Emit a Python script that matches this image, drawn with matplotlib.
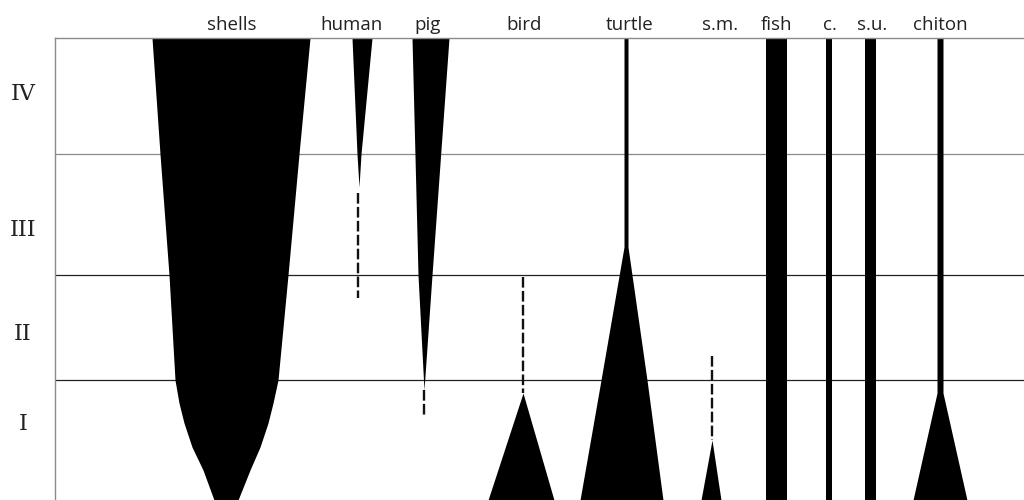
import numpy as np
import matplotlib.pyplot as plt

# depth is measured downward (pixel-like units), IV on top, I at the bottom
taxa = ['shells', 'human', 'pig', 'bird', 'turtle', 's.m.', 'fish', 'c.', 's.u.', 'chiton']
label_x = [232, 352, 428, 524, 630, 720, 777, 830, 872, 940]

periods = ['IV', 'III', 'II', 'I']
period_pos = [92, 227, 332, 422]
bounds = [154, 275, 380]
bound_col = ['#8a8a8a', '#222222', '#222222']

# abundance profiles: depth, left edge, right edge
shells_d = [38, 154, 275, 380, 403, 423, 447, 470, 500]
shells_l = [152, 160, 169, 175, 179, 184, 192, 203, 214]
shells_r = [310, 299, 288, 278, 273, 268, 260, 250, 238]

human_d = [38, 154, 187]
human_l = [352, 357, 359]
human_r = [372, 361, 359]

pig_d = [38, 275, 390]
pig_l = [412, 418, 424]
pig_r = [449, 432, 424]

bird_d = [393, 500]
bird_l = [523, 488]
bird_r = [523, 554]

turtle_d = [38, 247, 380, 500]
turtle_l = [624, 624, 601, 580]
turtle_r = [628, 628, 647, 663]

sm_d = [440, 500]
sm_l = [712, 701]
sm_r = [712, 721]

fish_d = [38, 500]
fish_l = [766, 766]
fish_r = [787, 787]

c_d = [38, 500]
c_l = [826, 826]
c_r = [832, 832]

su_d = [38, 500]
su_l = [865, 865]
su_r = [876, 876]

chiton_d = [38, 393, 500]
chiton_l = [937, 937, 913]
chiton_r = [943, 943, 967]

# uncertain presence (dashed): x, from, to
dash_x = [358, 424, 523, 712]
dash_top = [193, 390, 277, 356]
dash_bot = [298, 415, 393, 440]

profiles = [(shells_d, shells_l, shells_r), (human_d, human_l, human_r),
            (pig_d, pig_l, pig_r), (bird_d, bird_l, bird_r),
            (turtle_d, turtle_l, turtle_r), (sm_d, sm_l, sm_r),
            (fish_d, fish_l, fish_r), (c_d, c_l, c_r), (su_d, su_l, su_r),
            (chiton_d, chiton_l, chiton_r)]

fig = plt.figure(figsize=(10.24, 5), dpi=100)
ax = fig.add_axes([55/1024, 0, 1 - 55/1024, 462/500])
ax.set_xlim(55, 1024)
ax.set_ylim(500, 38)

for d, l, r in profiles:
	ax.fill_betweenx(d, l, r, color='black', lw=0)

for x, a, b in zip(dash_x, dash_top, dash_bot):
	ax.plot([x, x], [a, b], color='#111111', lw=1.7, dashes=(4.5, 1.4))

for yb, col in zip(bounds, bound_col):
	ax.axhline(yb, color=col, lw=0.9, zorder=0)

for s in ['right', 'bottom']:
	ax.spines[s].set_visible(False)
for s in ['left', 'top']:
	ax.spines[s].set_color('#8a8a8a')
	ax.spines[s].set_linewidth(1.0)

ax.xaxis.tick_top()
ax.set_xticks(label_x, taxa, fontfamily='Open Sans', fontsize=13.5, color='#222222')
ax.tick_params(axis='x', length=0, pad=3)

ax.set_yticks(period_pos, periods, fontfamily='DejaVu Serif', fontsize=16, color='#222222')
ax.tick_params(axis='y', length=0, pad=23)
for lbl in ax.get_yticklabels():
	lbl.set_horizontalalignment('center')

fig.savefig('out.png', dpi=100)
